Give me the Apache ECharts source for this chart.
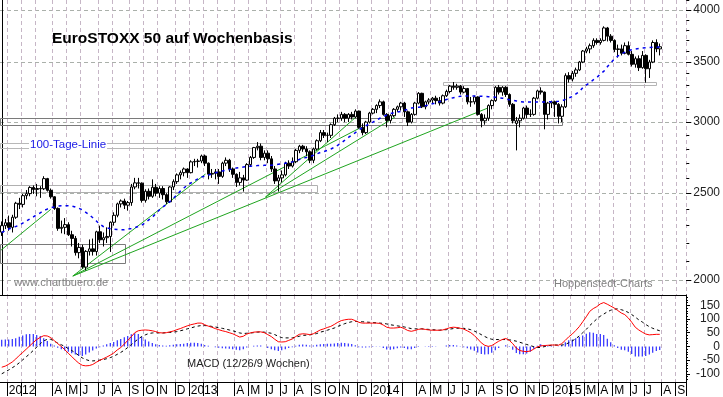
<!DOCTYPE html>
<html><head><meta charset="utf-8">
<script src="https://cdn.jsdelivr.net/npm/echarts@6/dist/echarts.min.js"></script>
<style>html,body{margin:0;padding:0;background:#fff}#c{width:723px;height:397px}</style>
</head><body><div id="c"></div>
<script>
// ---------- data ----------
const firstWeekFriday = [2011, 11, 23];   // week ending Fri 23 Dec 2011
const weekCount = 196;
const monthLetters = ['J','F','M','A','M','J','J','A','S','O','N','D'];
const hiddenMonthLabels = ['2012-02','2012-03','2013-02','2013-03','2014-02','2014-03','2015-02'];
const priceTicks = [2000, 2500, 3000, 3500, 4000];
const priceMinorTicks = [2000,2100,2200,2300,2400,2500,2600,2700,2800,2900,3000,3100,3200,3300,3400,3500,3600,3700,3800,3900,4000,4100];
const macdTicks = [-100, -50, 0, 50, 100, 150];
const macdMinorTicks = [-120,-110,-100,-90,-80,-70,-60,-50,-40,-30,-20,-10,0,10,20,30,40,50,60,70,80,90,100,110,120,130,140,150,160,170,180];

const open = [2262,2300,2317,2290,2350,2436,2429,2484,2497,2537,
 2524,2530,2528,2595,2518,2477,2404,2284,2290,2306,
 2247,2226,2146,2175,2068,2153,2167,2152,2264,2218,
 2230,2237,2320,2362,2432,2450,2424,2440,2540,2567,
 2565,2454,2512,2480,2538,2500,2530,2490,2445,2540,
 2575,2620,2635,2660,2635,2709,2712,2715,2750,2700,
 2625,2630,2640,2610,2700,2720,2660,2624,2570,2600,
 2585,2690,2740,2810,2820,2740,2770,2730,2660,2580,
 2600,2620,2700,2680,2710,2790,2820,2800,2780,2720,
 2800,2860,2920,2900,2900,2980,3030,3030,3060,3030,
 3060,3040,3086,2960,2920,3000,3070,3100,3130,3160,
 3060,3013,3050,3100,3120,3150,3080,3000,3060,3150,
 3230,3120,3160,3175,3190,3170,3150,3210,3245,3290,
 3280,3290,3240,3270,3160,3160,3200,3060,3010,3030,
 3130,3170,3280,3240,3280,3220,3140,2990,3010,3030,
 3110,3060,3060,3190,3250,3240,3060,3150,3160,3140,
 3045,3120,3380,3350,3400,3430,3500,3600,3620,3650,
 3700,3680,3700,3820,3740,3700,3615,3620,3580,3650,
 3570,3480,3530,3450,3560,3440,3500,3680,3620];
const close = [2300,2317,2290,2350,2436,2429,2484,2497,2537,2524,
 2530,2528,2595,2518,2477,2404,2284,2290,2306,2247,
 2226,2146,2175,2068,2153,2167,2152,2264,2218,2230,
 2237,2320,2362,2432,2450,2424,2440,2540,2567,2565,
 2454,2512,2480,2538,2500,2530,2490,2445,2540,2575,
 2620,2635,2660,2635,2709,2712,2715,2750,2700,2625,
 2630,2640,2610,2700,2720,2660,2624,2570,2600,2585,
 2690,2740,2810,2820,2740,2770,2730,2660,2580,2600,
 2620,2700,2680,2710,2790,2820,2800,2780,2720,2800,
 2860,2920,2900,2900,2980,3030,3030,3060,3030,3060,
 3040,3086,2960,2920,3000,3070,3100,3130,3160,3060,
 3013,3050,3100,3120,3150,3080,3000,3060,3150,3230,
 3120,3160,3175,3190,3170,3150,3210,3245,3290,3280,
 3290,3240,3270,3160,3160,3200,3060,3010,3030,3130,
 3170,3280,3240,3280,3220,3140,3010,3010,3030,3110,
 3060,3060,3190,3250,3240,3060,3150,3160,3140,3045,
 3120,3380,3350,3400,3430,3500,3600,3620,3650,3700,
 3680,3700,3820,3740,3700,3615,3620,3580,3650,3570,
 3480,3530,3450,3560,3440,3500,3680,3620,3640];
const high = [2325,2340,2360,2365,2445,2470,2495,2520,2545,2550,
 2560,2545,2611,2600,2530,2480,2410,2330,2345,2320,
 2270,2240,2200,2190,2160,2220,2225,2270,2300,2260,
 2290,2325,2380,2440,2460,2465,2450,2560,2600,2600,
 2570,2525,2530,2590,2560,2545,2545,2500,2545,2590,
 2630,2650,2670,2665,2720,2730,2730,2760,2760,2705,
 2660,2660,2660,2710,2740,2730,2670,2630,2640,2620,
 2700,2750,2815,2850,2840,2790,2790,2750,2680,2620,
 2650,2710,2720,2740,2800,2830,2830,2820,2790,2810,
 2870,2940,2940,2920,2990,3040,3060,3080,3070,3070,
 3080,3100,3090,2990,3010,3080,3110,3140,3180,3170,
 3070,3060,3110,3130,3160,3160,3090,3070,3160,3240,
 3235,3170,3190,3200,3210,3200,3220,3260,3300,3325,
 3310,3300,3290,3275,3200,3210,3205,3070,3060,3140,
 3180,3290,3300,3290,3290,3230,3150,3040,3060,3120,
 3130,3100,3200,3260,3280,3245,3160,3170,3170,3150,
 3140,3400,3410,3420,3450,3510,3610,3640,3670,3720,
 3720,3720,3836,3830,3760,3710,3660,3660,3680,3690,
 3600,3550,3560,3600,3570,3520,3700,3710,3670];
const low = [2240,2280,2270,2260,2340,2400,2410,2460,2480,2495,
 2480,2470,2520,2510,2465,2395,2270,2255,2250,2240,
 2180,2130,2115,2060,2050,2130,2130,2130,2200,2180,
 2200,2150,2300,2350,2410,2400,2390,2420,2525,2530,
 2440,2440,2460,2470,2480,2470,2460,2430,2440,2520,
 2560,2590,2610,2600,2630,2680,2670,2700,2680,2590,
 2600,2590,2560,2600,2680,2640,2600,2540,2550,2510,
 2580,2680,2730,2790,2720,2720,2700,2640,2560,2510,
 2570,2610,2660,2670,2700,2770,2780,2750,2700,2700,
 2790,2850,2880,2850,2880,2970,3000,3010,3000,3000,
 3020,3030,2950,2900,2910,2990,3060,3070,3110,3050,
 2960,2990,3040,3080,3090,3040,2970,2990,3050,3140,
 3110,3100,3140,3150,3140,3130,3140,3200,3230,3260,
 3260,3220,3230,3140,3120,3140,3050,2960,2980,3010,
 3100,3160,3220,3210,3200,3120,2990,2790,2960,3020,
 3030,3040,3050,3180,3220,2945,3020,3110,3040,2990,
 3000,3110,3320,3330,3370,3420,3490,3580,3580,3630,
 3660,3660,3690,3690,3680,3590,3540,3560,3570,3560,
 3460,3450,3420,3440,3320,3360,3490,3590,3560];
const ma100 = [2260,2270,2280,2288,2295,2303,2315,2327,2340,2352,
 2365,2377,2390,2400,2408,2413,2418,2420,2421,2421,
 2419,2413,2405,2395,2380,2365,2347,2328,2308,2295,
 2287,2282,2279,2277,2276,2276,2279,2283,2288,2295,
 2303,2318,2334,2350,2372,2394,2412,2428,2446,2467,
 2490,2513,2533,2552,2566,2580,2594,2605,2612,2619,
 2626,2634,2640,2646,2651,2656,2661,2666,2670,2673,
 2676,2679,2681,2683,2684,2685,2686,2686,2688,2692,
 2696,2700,2704,2709,2717,2726,2735,2740,2745,2755,
 2765,2775,2782,2790,2800,2812,2828,2845,2864,2884,
 2903,2920,2940,2957,2972,2986,3000,3015,3030,3043,
 3055,3066,3073,3079,3084,3092,3101,3110,3114,3117,
 3120,3128,3136,3145,3153,3161,3170,3179,3187,3194,
 3200,3206,3208,3208,3208,3208,3207,3206,3204,3202,
 3200,3197,3193,3190,3184,3178,3173,3167,3161,3158,
 3158,3158,3158,3158,3158,3159,3160,3161,3162,3164,
 3168,3180,3192,3205,3225,3245,3280,3300,3320,3345,
 3365,3395,3420,3460,3495,3530,3555,3575,3590,3605,
 3612,3618,3624,3629,3632,3634,3635,3636,3637];
const macd = [-76,-72,-65,-57,-46,-33,-22,-10,2,14,
 25,33,39,38,32,21,10,0,-12,-25,
 -37,-50,-61,-69,-71,-70,-66,-58,-51,-45,
 -39,-32,-24,-13,-4,8,22,35,50,57,
 59,60,59,57,54,50,49,50,53,56,
 61,65,70,75,79,82,85,85,79,74,
 70,65,61,57,54,50,46,40,34,37,
 45,49,52,53,53,50,43,36,26,17,
 16,17,22,27,36,44,46,45,43,46,
 53,60,64,69,73,80,88,94,97,99,
 99,94,88,85,85,85,85,85,84,78,
 70,67,67,68,70,65,58,55,58,62,
 64,62,60,59,59,59,60,64,68,70,
 69,66,63,57,50,40,27,13,4,0,
 3,11,19,25,29,22,10,-6,-15,-18,
 -19,-17,-10,-2,2,3,4,5,5,4,
 10,22,35,45,58,72,90,108,128,138,
 145,155,160,154,147,140,131,122,116,104,
 88,70,60,52,45,42,43,44,44];
const signal = [-100,-93,-86,-78,-70,-60,-49,-38,-27,-15,
 -3,10,20,26,26,19,12,6,0,-8,
 -15,-24,-33,-42,-48,-52,-53,-52,-50,-48,
 -45,-41,-36,-29,-22,-14,-4,6,17,27,
 36,42,47,49,50,49,49,50,51,52,
 54,57,60,64,67,71,74,76,76,75,
 73,71,68,66,63,60,57,53,49,47,
 48,49,50,52,53,52,50,48,43,37,
 32,31,31,31,34,37,40,41,42,44,
 47,52,55,59,63,67,73,78,83,87,
 90,91,91,90,89,88,87,86,85,84,
 82,79,77,75,73,71,68,65,64,64,
 64,63,62,61,60,59,60,61,63,65,
 66,67,66,64,61,56,50,43,36,30,
 26,25,25,25,25,24,22,19,15,11,
 7,3,-1,-4,-4,-1,2,4,5,5,
 5,7,13,20,28,38,50,62,76,88,
 100,110,118,126,132,136,137,134,130,124,
 116,107,97,89,80,72,66,61,57];
const hist = [24,25,25,27,30,35,40,44,45,45,
 42,38,30,20,10,3,-5,-10,-15,-20,
 -25,-30,-35,-35,-30,-22,-15,-8,-3,3,
 8,12,16,22,27,33,38,44,48,45,
 35,25,18,12,8,5,3,2,4,6,
 8,9,10,12,13,13,12,10,5,2,
 0,-3,-5,-7,-8,-9,-10,-12,-14,-10,
 -4,0,2,3,3,0,-6,-10,-14,-17,
 -14,-10,-6,-3,2,6,7,6,3,3,
 6,8,9,10,10,11,12,13,12,11,
 9,4,-3,-4,-4,-3,-2,-1,-1,-6,
 -11,-12,-10,-7,-4,-6,-10,-10,-6,-2,
 0,-1,-2,-2,-1,0,0,3,5,5,
 3,-1,-3,-7,-11,-16,-22,-28,-30,-29,
 -23,-14,-6,0,4,-2,-12,-24,-29,-29,
 -26,-20,-9,2,8,5,2,1,0,-1,
 5,15,22,25,30,34,40,46,52,50,
 45,45,42,28,15,4,-6,-12,-14,-20,
 -28,-37,-37,-37,-35,-30,-23,-17,-13];
// trend lines: [[weekIndex, price], [weekIndex, price]]
const trendLines = [
 [[-0.2, 2160], [14.0, 2398]],
 [[20.3, 2021], [58.2, 2626]],
 [[20.3, 2021], [102.3, 2955]],
 [[20.3, 2021], [138.8, 3110]],
 [[75.3, 2475], [101.8, 3055]],
 [[75.3, 2475], [112.3, 3040]]
];
// boxes: [fromWeek, toWeek, lowPrice, highPrice]
const boxes = [
 [-0.5, 159.9, 2978, 3032],
 [126.0, 186.7, 3300, 3325],
 [-0.5, 90.1, 2507, 2553],
 [-0.5, 90.1, 2807, 2843],
 [-0.5, 35.1, 2090, 2194]
];
const boxShade = ['#7a7a7a', '#b4b4b4', '#b0b0b0', '#b8b8b8', '#7a7a7a'];

// ---------- build ----------
const cats = [];
const t0 = Date.UTC(firstWeekFriday[0], firstWeekFriday[1], firstWeekFriday[2]);
for (let i = 0; i < weekCount; i++) cats.push(new Date(t0 + i * 7 * 864e5).toISOString().slice(0, 10));
const isMonthStart = i => i > 0 && cats[i].slice(0, 7) !== cats[i - 1].slice(0, 7);
const tickFn = i => isMonthStart(i);
const labelFn = (i, v) => isMonthStart(i) && hiddenMonthLabels.indexOf(cats[i].slice(0, 7)) < 0;
const labelFmt = v => { const m = +v.slice(5, 7); return m === 1 ? v.slice(0, 4) : monthLetters[m - 1]; };
const candles = open.map((o, i) => [o, close[i], low[i], high[i]]);

const PMIN = 1925, PMAX = 4104, MMIN = -130, MMAX = 187.6;
const vGrid = { show: true, interval: tickFn, lineStyle: { color: '#c6b6c6', type: [4, 3], width: 1 } };
const FONT = 'Arial, "Liberation Sans", sans-serif';

const series = [
 { type: 'custom', xAxisIndex: 1, yAxisIndex: 0, z: 1, silent: true,
   data: boxes.map((b, i) => [b[0], b[1], b[2], b[3], i]),
   encode: { x: [0, 1], y: [2, 3] },
   renderItem: (params, api) => {
     const p1 = api.coord([api.value(0), api.value(3)]);
     const p2 = api.coord([api.value(1), api.value(2)]);
     return { type: 'rect', shape: { x: Math.round(p1[0]) + 0.5, y: Math.round(p1[1]) + 0.5, width: Math.round(p2[0] - p1[0]), height: Math.round(p2[1] - p1[1]) },
       style: { fill: 'none', stroke: boxShade[api.value(4)], lineWidth: 1 } };
   } },
 { type: 'candlestick', xAxisIndex: 0, yAxisIndex: 0, data: candles, barWidth: 3, z: 3,
   itemStyle: { color: '#fff', color0: '#000', borderColor: '#000', borderColor0: '#000', borderWidth: 1 } },
 { type: 'line', xAxisIndex: 0, yAxisIndex: 0, data: ma100, symbol: 'none', z: 4,
   lineStyle: { color: '#0000ee', width: 1.5, type: [3, 4] } }
];
trendLines.forEach(l => series.push({ type: 'line', xAxisIndex: 1, yAxisIndex: 0, data: l, symbol: 'none', z: 2,
  lineStyle: { color: '#1fa51f', width: 1 } }));
series.push(
 { type: 'bar', xAxisIndex: 2, yAxisIndex: 3, data: hist, barWidth: 1, itemStyle: { color: '#0000ff' } },
 { type: 'line', xAxisIndex: 2, yAxisIndex: 3, data: signal, symbol: 'none', lineStyle: { color: '#000', width: 1, type: [3, 3] } },
 { type: 'line', xAxisIndex: 2, yAxisIndex: 3, data: macd, symbol: 'none', lineStyle: { color: '#ff0000', width: 1 } }
);

const option = {
 animation: false,
 backgroundColor: '#fff',
 textStyle: { fontFamily: FONT },
 grid: [
  { left: -1, right: 35, top: 0, height: 295 },
  { left: -1, right: 35, top: 295, height: 88 }
 ],
 xAxis: [
  { type: 'category', gridIndex: 0, data: cats, boundaryGap: true, position: 'bottom',
    axisLine: { show: true, onZero: false, lineStyle: { color: '#000', width: 1 } },
    axisTick: { show: false }, axisLabel: { show: false }, splitLine: vGrid },
  { type: 'value', gridIndex: 0, min: -0.5, max: weekCount - 0.5, show: false },
  { type: 'category', gridIndex: 1, data: cats, boundaryGap: true, position: 'bottom',
    axisLine: { show: true, onZero: false, lineStyle: { color: '#000', width: 1 } },
    axisTick: { show: true, interval: tickFn, length: 14, lineStyle: { color: '#000', width: 1 } },
    axisLabel: { interval: labelFn, formatter: labelFmt, align: 'left', margin: 3, color: '#000', fontSize: 12, fontFamily: FONT },
    splitLine: vGrid }
 ],
 yAxis: [
  { type: 'log', gridIndex: 0, position: 'right', min: PMIN, max: PMAX, logBase: 10,
    axisLine: { show: true, lineStyle: { color: '#000' } }, axisTick: { show: false }, axisLabel: { show: false }, splitLine: { show: false } },
  { type: 'value', gridIndex: 0, position: 'right', min: Math.log(PMIN), max: Math.log(PMAX),
    axisLine: { show: false },
    axisTick: { show: true, customValues: priceTicks.map(Math.log), length: 5, lineStyle: { color: '#000' } },
    axisLabel: { customValues: priceTicks.map(Math.log), formatter: v => String(Math.round(Math.exp(v))), margin: 7, color: '#222', fontSize: 12, fontFamily: FONT },
    splitLine: { show: true, lineStyle: { color: '#aab0aa', type: [4, 3], width: 1 } } },
  { type: 'value', gridIndex: 0, position: 'right', min: Math.log(PMIN), max: Math.log(PMAX),
    axisLine: { show: false },
    axisTick: { show: true, customValues: priceMinorTicks.map(Math.log), length: 3, lineStyle: { color: '#000' } },
    axisLabel: { show: false }, splitLine: { show: false } },
  { type: 'value', gridIndex: 1, position: 'right', min: MMIN, max: MMAX,
    axisLine: { show: true, onZero: false, lineStyle: { color: '#000' } },
    axisTick: { show: true, customValues: macdTicks, length: 4, lineStyle: { color: '#000' } },
    axisLabel: { customValues: macdTicks, align: 'right', margin: 34, color: '#222', fontSize: 12, fontFamily: FONT },
    splitLine: { show: false } },
  { type: 'value', gridIndex: 1, position: 'right', min: MMIN, max: MMAX,
    axisLine: { show: false },
    axisTick: { show: true, customValues: macdMinorTicks, length: 2, lineStyle: { color: '#000' } },
    axisLabel: { show: false }, splitLine: { show: false } }
 ],
 graphic: [
  { type: 'text', x: 52, y: 39, z: 100, style: { text: 'EuroSTOXX 50 auf Wochenbasis', font: 'bold 15.5px ' + FONT, fill: '#000', verticalAlign: 'middle' } },
  { type: 'text', x: 29, y: 144.5, z: 100, style: { text: '100-Tage-Linie', font: '11.5px ' + FONT, fill: '#1a1ae6', verticalAlign: 'middle', backgroundColor: '#fff', padding: [0, 1] } },
  { type: 'text', x: 14, y: 283, z: 100, style: { text: 'www.chartbuero.de', font: '11px ' + FONT, fill: '#808080', verticalAlign: 'middle' } },
  { type: 'text', x: 554, y: 284, z: 100, style: { text: 'Hoppenstedt-Charts', font: '11px ' + FONT, fill: '#808080', verticalAlign: 'middle' } },
  { type: 'text', x: 187, y: 364, z: 100, style: { text: 'MACD (12/26/9 Wochen)', font: '11px ' + FONT, fill: '#222', verticalAlign: 'middle' } }
 ],
 series: series
};
echarts.init(document.getElementById('c'), null, { renderer: 'canvas' }).setOption(option);
</script></body></html>
